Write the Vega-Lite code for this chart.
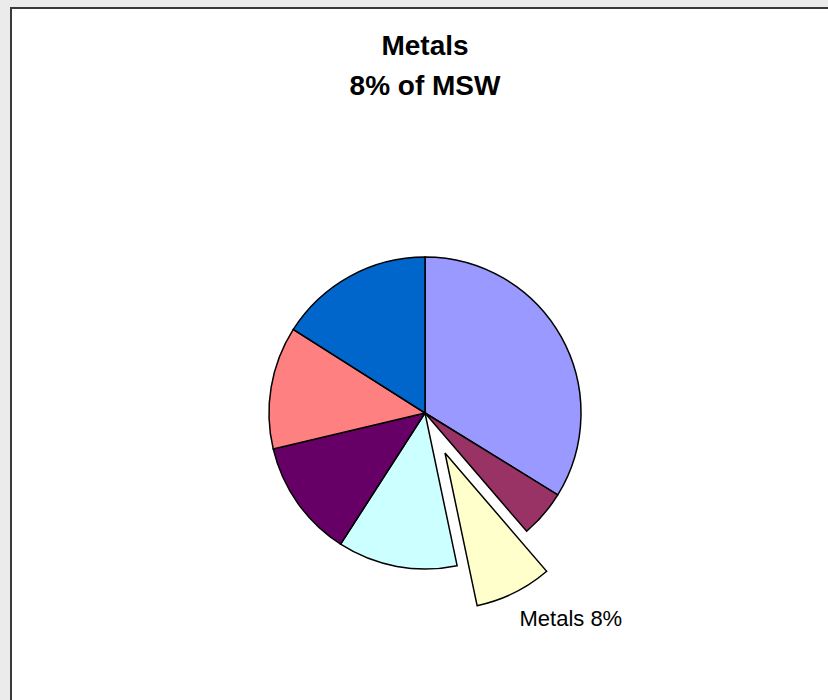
{
  "$schema": "https://vega.github.io/schema/vega-lite/v6.json",
  "autosize": "none",
  "width": 828,
  "height": 810,
  "padding": {"left": 11, "top": 8, "right": 0, "bottom": 0},
  "background": "#ebebeb",
  "view": {"fill": "white", "stroke": "#3a3a3a", "strokeWidth": 2},
  "title": {
    "text": ["Metals", "8% of MSW"],
    "font": "Liberation Sans",
    "fontSize": 28,
    "fontWeight": "bold",
    "lineHeight": 40,
    "anchor": "middle",
    "offset": -93,
    "color": "black"
  },
  "data": {
    "values": [
      {"category": "Paper", "percent": 33.8, "order": 1, "label": ""},
      {"category": "Glass", "percent": 4.9, "order": 2, "label": ""},
      {"category": "Metals", "percent": 8, "order": 3, "label": "Metals 8%"},
      {"category": "Plastics", "percent": 12.4, "order": 4, "label": ""},
      {"category": "Food scraps", "percent": 12.2, "order": 5, "label": ""},
      {"category": "Yard trimmings", "percent": 12.7, "order": 6, "label": ""},
      {"category": "Other", "percent": 16, "order": 7, "label": ""}
    ]
  },
  "encoding": {
    "theta": {"field": "percent", "type": "quantitative", "stack": true},
    "order": {"field": "order", "type": "quantitative"},
    "color": {
      "field": "category",
      "type": "nominal",
      "legend": null,
      "scale": {
        "domain": ["Paper", "Glass", "Metals", "Plastics", "Food scraps", "Yard trimmings", "Other"],
        "range": ["#9999FF", "#993366", "#FFFFCC", "#CCFFFF", "#660066", "#FF8080", "#0066CC"]
      }
    }
  },
  "layer": [
    {
      "mark": {"type": "arc", "outerRadius": 156, "stroke": "black", "strokeWidth": 1.5},
      "encoding": {
        "opacity": {"condition": {"test": "datum.category === 'Metals'", "value": 0}, "value": 1}
      }
    },
    {
      "mark": {"type": "arc", "outerRadius": 156, "stroke": "black", "strokeWidth": 1.5, "xOffset": 20, "yOffset": 40},
      "encoding": {
        "opacity": {"condition": {"test": "datum.category === 'Metals'", "value": 1}, "value": 0}
      }
    },
    {
      "mark": {"type": "text", "radius": 230, "dx": 44, "font": "Liberation Sans", "fontSize": 22, "color": "black"},
      "encoding": {
        "text": {"field": "label"},
        "color": {"value": "black"}
      }
    }
  ]
}
